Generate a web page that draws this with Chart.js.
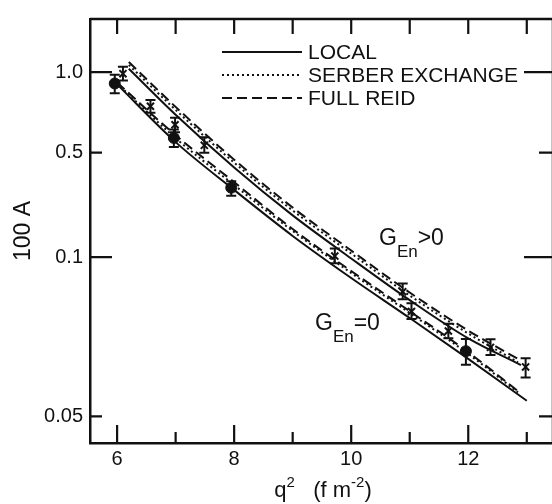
<!DOCTYPE html>
<html>
<head>
<meta charset="utf-8">
<script src="https://cdn.jsdelivr.net/npm/chart.js@4.4.0/dist/chart.umd.min.js"></script>
<style>
  html, body { margin: 0; padding: 0; background: #fff; overflow: hidden; }
  #wrap { width: 560px; height: 504px; }
</style>
</head>
<body>
<div id="wrap"><canvas id="chart" width="560" height="504"></canvas></div>
<script>
// theory curves, q^2 in fm^-2, 100A
const qPos = [6.2, 7, 8, 9, 10, 11, 12, 12.85];
const qPosLocal = [6.2, 7, 8, 9, 10, 11, 12, 12.9];
const qZero = [6, 7, 8, 9, 10, 11, 12, 13];
const qZeroBroken = [6, 7, 8, 9, 10, 11, 12, 12.85];

const localPos = [1.028, 0.692, 0.397, 0.190, 0.0994, 0.0829, 0.0702, 0.0625];
const serberPos = [1.063, 0.722, 0.428, 0.2049, 0.1057, 0.0846, 0.0717, 0.0633];
const reidPos = [1.090, 0.741, 0.448, 0.2144, 0.1106, 0.0857, 0.0726, 0.0642];
const localZero = [0.899, 0.547, 0.281, 0.1385, 0.0913, 0.0767, 0.0642, 0.0535];
const serberZero = [0.906, 0.566, 0.303, 0.1494, 0.0933, 0.0784, 0.0656, 0.0555];
const reidZero = [0.914, 0.580, 0.317, 0.1539, 0.0941, 0.0790, 0.0661, 0.0558];

// measured points (x markers)
const crossQ = [6.10, 6.57, 6.99, 7.49, 9.72, 10.88, 11.03, 11.66, 12.38, 12.98];
const crossA = [0.986, 0.745, 0.635, 0.532, 0.1015, 0.086, 0.0789, 0.0725, 0.0675, 0.062];
const crossLo = [0.929, 0.704, 0.595, 0.499, 0.0973, 0.0832, 0.0764, 0.0702, 0.0653, 0.0592];
const crossHi = [1.046, 0.786, 0.675, 0.571, 0.114, 0.0891, 0.0818, 0.0748, 0.0699, 0.0644];

// measured points (filled circles)
const dotQ = [5.96, 6.97, 7.95, 11.96];
const dotA = [0.906, 0.567, 0.291, 0.0664];
const dotLo = [0.833, 0.525, 0.257, 0.0626];
const dotHi = [0.977, 0.610, 0.322, 0.070];

const xTicks = [6, 8, 10, 12];
const xMinorTicks = [7, 9, 11, 13];
const xTopTicks = [6, 7, 8, 9, 10, 11, 12, 13];
const yTicks = [0.05, 0.1, 0.5, 1.0];
const yTickLabels = ['0.05', '0.1', '0.5', '1.0'];
const yMajor = [false, true, false, true];

const legendItems = ['LOCAL', 'SERBER EXCHANGE', 'FULL REID'];

const FONT = '"Liberation Sans", Arial, sans-serif';
const DOTTED = [2, 3];
const DASHED = [10, 5];

// y axis of the original figure: log pieces between the labelled values
class WarpedLogScale extends Chart.LinearScale {
  static id = 'warpedLog';
  static defaults = Chart.LinearScale.defaults;

  buildTicks() {
    return this.options.tickValues.map((v) => ({ value: v }));
  }

  toDecimal(v) {
    const logs = this.options.anchors.map(Math.log10);
    const dec = this.options.anchorDecimals;
    const l = Math.log10(v);
    let i = 0;
    while (i < logs.length - 2 && l > logs[i + 1]) i++;
    return dec[i] + ((l - logs[i]) * (dec[i + 1] - dec[i])) / (logs[i + 1] - logs[i]);
  }

  getPixelForValue(v) {
    return this.getPixelForDecimal(this.toDecimal(v));
  }

  getValueForPixel(p) {
    const logs = this.options.anchors.map(Math.log10);
    const dec = this.options.anchorDecimals;
    const d = this.getDecimalForPixel(p);
    let i = 0;
    while (i < dec.length - 2 && d > dec[i + 1]) i++;
    return Math.pow(10, logs[i] + ((d - dec[i]) * (logs[i + 1] - logs[i])) / (dec[i + 1] - dec[i]));
  }
}
Chart.register(WarpedLogScale);

function pts(xs, ys) {
  return xs.map((x, i) => ({ x, y: ys[i] }));
}

function curve(xs, ys, dash) {
  return {
    type: 'line',
    data: pts(xs, ys),
    borderColor: '#111',
    borderWidth: 2,
    borderDash: dash,
    borderCapStyle: 'butt',
    pointRadius: 0,
    cubicInterpolationMode: 'monotone',
    fill: false,
  };
}

const errorBars = {
  id: 'errorBars',
  afterDatasetsDraw(chart) {
    const { ctx, scales: { x, y } } = chart;
    const sets = [[crossQ, crossLo, crossHi], [dotQ, dotLo, dotHi]];
    ctx.save();
    ctx.strokeStyle = '#111';
    ctx.lineWidth = 2;
    sets.forEach(([qs, lo, hi]) => {
      qs.forEach((q, i) => {
        const px = x.getPixelForValue(q);
        const y1 = y.getPixelForValue(lo[i]);
        const y2 = y.getPixelForValue(hi[i]);
        ctx.beginPath();
        ctx.moveTo(px, y1); ctx.lineTo(px, y2);
        ctx.moveTo(px - 5, y1); ctx.lineTo(px + 5, y1);
        ctx.moveTo(px - 5, y2); ctx.lineTo(px + 5, y2);
        ctx.stroke();
      });
    });
    ctx.restore();
  },
};

const frame = {
  id: 'frame',
  afterDraw(chart) {
    const { ctx, chartArea: a, scales: { x, y } } = chart;
    ctx.save();
    ctx.strokeStyle = '#111';
    ctx.lineWidth = 2.5;
    ctx.beginPath();
    ctx.moveTo(a.left, a.top); ctx.lineTo(a.right, a.top);
    ctx.moveTo(a.right, a.top); ctx.lineTo(a.right, a.bottom);
    ctx.stroke();

    ctx.lineWidth = 2.2;
    ctx.beginPath();
    xTicks.forEach((v) => {
      const px = x.getPixelForValue(v);
      ctx.moveTo(px, a.bottom); ctx.lineTo(px, a.bottom - 18);
    });
    xMinorTicks.forEach((v) => {
      const px = x.getPixelForValue(v);
      ctx.moveTo(px, a.bottom); ctx.lineTo(px, a.bottom - 11);
    });
    xTopTicks.forEach((v) => {
      const px = x.getPixelForValue(v);
      ctx.moveTo(px, a.top); ctx.lineTo(px, a.top + 15);
    });
    yTicks.forEach((v, i) => {
      const py = y.getPixelForValue(v);
      ctx.moveTo(a.left, py); ctx.lineTo(a.left + (yMajor[i] ? 22 : 12), py);
      ctx.moveTo(a.right, py); ctx.lineTo(a.right - (yMajor[i] ? 29 : 14), py);
    });
    ctx.stroke();

    // legend
    const lx0 = 222, lx1 = 302;
    const rows = [52, 75, 98];
    const dashes = [[], DOTTED, DASHED];
    ctx.lineWidth = 2;
    rows.forEach((ry, i) => {
      ctx.setLineDash(dashes[i]);
      ctx.beginPath();
      ctx.moveTo(lx0, ry); ctx.lineTo(lx1, ry);
      ctx.stroke();
    });
    ctx.setLineDash([]);
    ctx.fillStyle = '#111';
    ctx.font = '21px ' + FONT;
    ctx.textBaseline = 'middle';
    ctx.textAlign = 'left';
    rows.forEach((ry, i) => ctx.fillText(legendItems[i], 308, ry + 1));

    // curve labels
    const label = (x0, yb, rel) => {
      ctx.font = '23px ' + FONT;
      ctx.textBaseline = 'alphabetic';
      ctx.fillText('G', x0, yb);
      let w = ctx.measureText('G').width;
      ctx.font = '17px ' + FONT;
      ctx.fillText('En', x0 + w, yb + 12);
      w += ctx.measureText('En').width;
      ctx.font = '23px ' + FONT;
      ctx.fillText(rel, x0 + w, yb);
    };
    label(379, 245, '>0');
    label(315, 330, '=0');

    // x axis title with superscripts
    const parts = [['q', 22, 0], ['2', 15, -10], ['   (f m', 22, 0], ['-2', 15, -10], [')', 22, 0]];
    let total = 0;
    parts.forEach(([t, s]) => { ctx.font = s + 'px ' + FONT; total += ctx.measureText(t).width; });
    let tx = (a.left + 552) / 2 - total / 2 + 2;
    parts.forEach(([t, s, dy]) => {
      ctx.font = s + 'px ' + FONT;
      ctx.fillText(t, tx, 497 + dy);
      tx += ctx.measureText(t).width;
    });
    ctx.restore();
  },
};

const ctx = document.getElementById('chart');
new Chart(ctx, {
  data: {
    datasets: [
      curve(qPosLocal, localPos, []),
      curve(qPos, serberPos, DOTTED),
      curve(qPos, reidPos, DASHED),
      curve(qZero, localZero, []),
      curve(qZeroBroken, serberZero, DOTTED),
      curve(qZeroBroken, reidZero, DASHED),
      {
        type: 'scatter',
        data: pts(crossQ, crossA),
        pointStyle: 'crossRot',
        pointRadius: 5,
        borderColor: '#111',
        borderWidth: 2,
      },
      {
        type: 'scatter',
        data: pts(dotQ, dotA),
        pointStyle: 'circle',
        pointRadius: 5.5,
        backgroundColor: '#111',
        borderColor: '#111',
        borderWidth: 1,
      },
    ],
  },
  options: {
    responsive: false,
    animation: false,
    events: [],
    layout: { padding: { top: 9, right: 4, left: 0, bottom: 0 } },
    plugins: { legend: { display: false }, tooltip: { enabled: false } },
    scales: {
      x: {
        type: 'linear',
        min: 5.537,
        max: 13.448,
        afterBuildTicks: (s) => { s.ticks = xTicks.map((v) => ({ value: v })); },
        afterFit: (s) => { s.height = 61; },
        grid: { display: false, drawTicks: false },
        border: { display: true, color: '#111', width: 2.5 },
        ticks: { color: '#111', font: { family: FONT, size: 20 }, padding: 4, autoSkip: false, maxRotation: 0 },
      },
      y: {
        type: 'warpedLog',
        position: 'left',
        min: 0.04,
        max: 1.7,
        tickValues: yTicks,
        anchors: yTicks,
        anchorDecimals: [0.0629, 0.4385, 0.685, 0.8749],
        afterFit: (s) => { s.width = 90; },
        grid: { display: false, drawTicks: false },
        border: { display: true, color: '#111', width: 2.5 },
        ticks: {
          color: '#111',
          font: { family: FONT, size: 20 },
          padding: 7,
          autoSkip: false,
          callback: (v, i) => yTickLabels[i],
        },
        title: { display: true, text: '100 A', color: '#111', font: { family: FONT, size: 23 }, padding: { top: 10 } },
      },
    },
  },
  plugins: [errorBars, frame],
});
</script>
</body>
</html>
